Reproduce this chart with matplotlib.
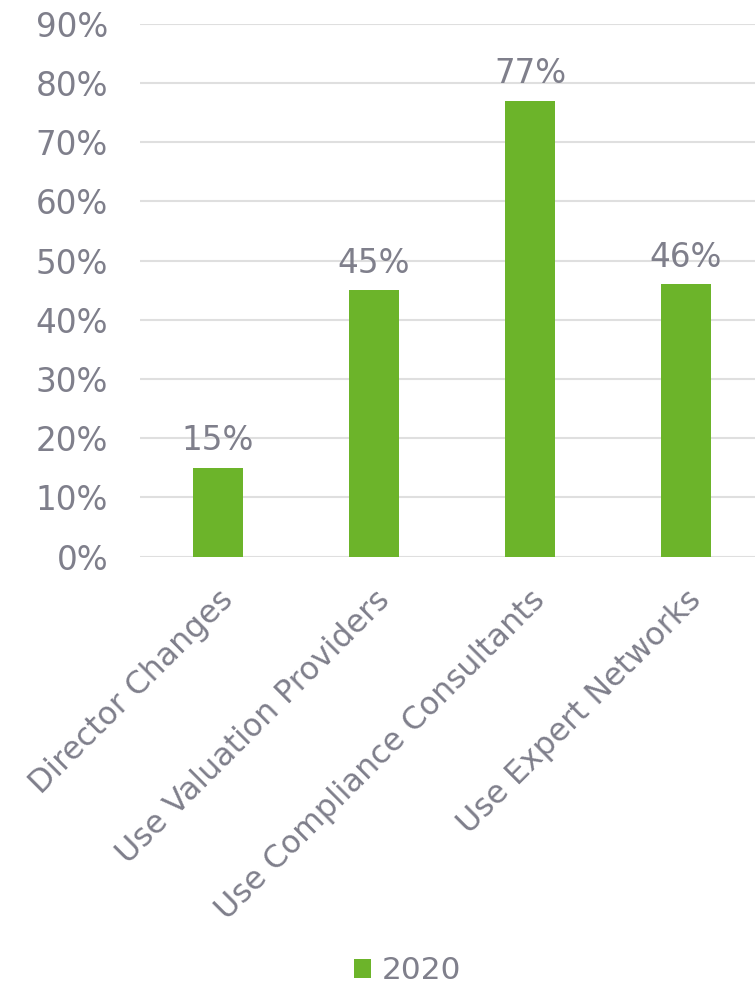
import matplotlib
matplotlib.use("Agg")
import matplotlib.pyplot as plt
from matplotlib.ticker import PercentFormatter

categories = ["Director Changes", "Use Valuation Providers",
              "Use Compliance Consultants", "Use Expert Networks"]
values_2020 = [0.15, 0.45, 0.77, 0.46]
series_name = "2020"

text_color = "#7f7f8b"
bar_color = "#6cb42a"

plt.rcParams["font.family"] = ["Verdana", "DejaVu Sans"]

fig = plt.figure(figsize=(7.55, 9.85), dpi=100)
ax = fig.add_axes([140 / 755, (985 - 556.5) / 985, 624 / 755, (556.5 - 24) / 985])

x = range(len(categories))
ax.bar(x, values_2020, width=0.315, color=bar_color, label=series_name, zorder=3)

for xi, v in zip(x, values_2020):
    ax.text(xi, v + 0.018, f"{v:.0%}", ha="center", va="bottom",
            fontsize=23.5, color=text_color)

ax.set_xlim(-0.5, len(categories) - 0.5)
ax.set_ylim(0, 0.9)
ax.set_yticks([i / 10 for i in range(10)])
ax.yaxis.set_major_formatter(PercentFormatter(1.0, decimals=0))
ax.set_xticks(list(x))
ax.set_xticklabels(categories, rotation=45, ha="right", rotation_mode="anchor")

ax.tick_params(axis="y", length=0, labelsize=23.5, colors=text_color, pad=23)
ax.tick_params(axis="x", length=0, labelsize=22.7, colors=text_color, pad=20)
ax.grid(axis="y", color="#dfdfdf", linewidth=1.5, zorder=0)
for s in ax.spines.values():
    s.set_visible(False)

leg = fig.legend(loc="lower center", bbox_to_anchor=(0.54, -0.029), frameon=False,
                 fontsize=22.5, handlelength=0.55, handleheight=0.55,
                 handletextpad=0.35)
for t in leg.get_texts():
    t.set_color(text_color)

fig.savefig("out.png", dpi=100)
